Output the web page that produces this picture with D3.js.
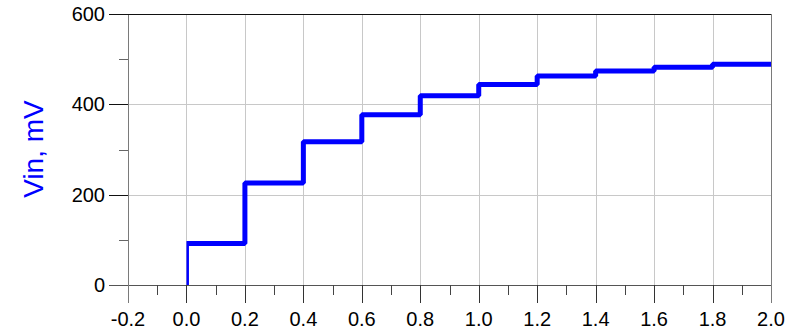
<!DOCTYPE html>
<html>
<head>
<meta charset="utf-8">
<script src="https://cdn.jsdelivr.net/npm/d3@7"></script>
<style>
  html, body { margin: 0; padding: 0; background: #fff; }
  svg { display: block; font-family: Arial, "Liberation Sans", sans-serif; }
</style>
</head>
<body>
<svg id="chart" width="800" height="334"></svg>
<script>
// Input voltage staircase: level held after each switching instant (mV)
const stepTimes  = [0.0, 0.2, 0.4, 0.6, 0.8, 1.0, 1.2, 1.4, 1.6, 1.8];
const stepValues = [92, 226, 317, 377, 419, 444, 463, 474, 482, 489];
const endTime = 2.0;

const xTicks = [-0.2, 0.0, 0.2, 0.4, 0.6, 0.8, 1.0, 1.2, 1.4, 1.6, 1.8, 2.0];
const xMinorTicks = [-0.1, 0.1, 0.3, 0.5, 0.7, 0.9, 1.1, 1.3, 1.5, 1.7, 1.9];
const yTicks = [0, 200, 400, 600];
const yMinorTicks = [100, 300, 500];
const yLabel = "Vin, mV";

const svg = d3.select("#chart");
const plotLeft = 128, plotRight = 771, plotTop = 14, plotBottom = 285;

const x = d3.scaleLinear().domain([-0.2, 2.0]).range([plotLeft, plotRight]);
const y = d3.scaleLinear().domain([0, 600]).range([plotBottom, plotTop]);
const px = v => Math.round(v) + 0.5;

// grid
const grid = svg.append("g").attr("stroke", "#c8c8c8").attr("stroke-width", 1);
grid.selectAll("line.gx").data(xTicks.filter(t => t > -0.2 && t < 2.0)).join("line")
  .attr("x1", d => px(x(d))).attr("x2", d => px(x(d)))
  .attr("y1", plotTop).attr("y2", plotBottom);
grid.selectAll("line.gy").data(yTicks.filter(t => t > 0 && t < 600)).join("line")
  .attr("y1", d => px(y(d))).attr("y2", d => px(y(d)))
  .attr("x1", plotLeft).attr("x2", plotRight);

// frame: left axis and right edge in gray
svg.append("line").attr("x1", px(plotLeft)).attr("x2", px(plotLeft))
  .attr("y1", plotTop).attr("y2", plotBottom + 18).attr("stroke", "#7a7a7a");
svg.append("line").attr("x1", px(plotRight)).attr("x2", px(plotRight))
  .attr("y1", plotTop).attr("y2", plotBottom + 18).attr("stroke", "#7a7a7a");

// y axis ticks (the 600 tick runs on as the top edge)
const yAxis = svg.append("g");
yAxis.selectAll("line.maj").data(yTicks).join("line")
  .attr("x1", plotLeft - 19).attr("x2", d => d === 600 ? plotRight : plotLeft)
  .attr("y1", d => px(y(d))).attr("y2", d => px(y(d)))
  .attr("stroke", d => d === 0 ? "#555" : "#111");
yAxis.selectAll("line.min").data(yMinorTicks).join("line")
  .attr("x1", plotLeft - 9).attr("x2", plotLeft)
  .attr("y1", d => px(y(d))).attr("y2", d => px(y(d)))
  .attr("stroke", "#666");
yAxis.selectAll("text").data(yTicks).join("text")
  .attr("x", plotLeft - 23).attr("y", d => y(d))
  .attr("dy", "0.35em").attr("text-anchor", "end")
  .attr("font-size", 20).attr("fill", "#000")
  .text(d => String(d));

// x axis
const xAxis = svg.append("g");
xAxis.append("line").attr("x1", plotLeft - 19).attr("x2", plotRight)
  .attr("y1", px(plotBottom)).attr("y2", px(plotBottom)).attr("stroke", "#555");
xAxis.selectAll("line.maj").data(xTicks).join("line")
  .attr("x1", d => px(x(d))).attr("x2", d => px(x(d)))
  .attr("y1", plotBottom).attr("y2", plotBottom + 18)
  .attr("stroke", d => (d === -0.2 || d === 2.0) ? "#7a7a7a" : "#333");
xAxis.selectAll("line.min").data(xMinorTicks).join("line")
  .attr("x1", d => px(x(d))).attr("x2", d => px(x(d)))
  .attr("y1", plotBottom).attr("y2", plotBottom + 10).attr("stroke", "#444");
xAxis.selectAll("text").data(xTicks).join("text")
  .attr("x", d => x(d)).attr("y", 326)
  .attr("text-anchor", "middle").attr("font-size", 20).attr("fill", "#000")
  .text(d => d.toFixed(1));

// y axis title
svg.append("text")
  .attr("transform", "translate(43,149) rotate(-90)")
  .attr("text-anchor", "middle").attr("font-size", 28).attr("fill", "#0000ff")
  .text(yLabel);

// staircase trace, clipped to the simulated time span
svg.append("clipPath").attr("id", "traceClip").append("rect")
  .attr("x", x(0)).attr("y", 0).attr("width", x(endTime) - x(0)).attr("height", 334);

const pts = [[0, 0]].concat(stepTimes.map((t, i) => [t, stepValues[i]]), [[endTime, stepValues[stepValues.length - 1]]]);
const line = d3.line().x(d => x(d[0])).y(d => y(d[1])).curve(d3.curveStepAfter);

svg.append("path")
  .attr("clip-path", "url(#traceClip)")
  .attr("d", line(pts))
  .attr("fill", "none").attr("stroke", "#0000ff")
  .attr("stroke-width", 5).attr("stroke-linejoin", "bevel");
</script>
</body>
</html>
